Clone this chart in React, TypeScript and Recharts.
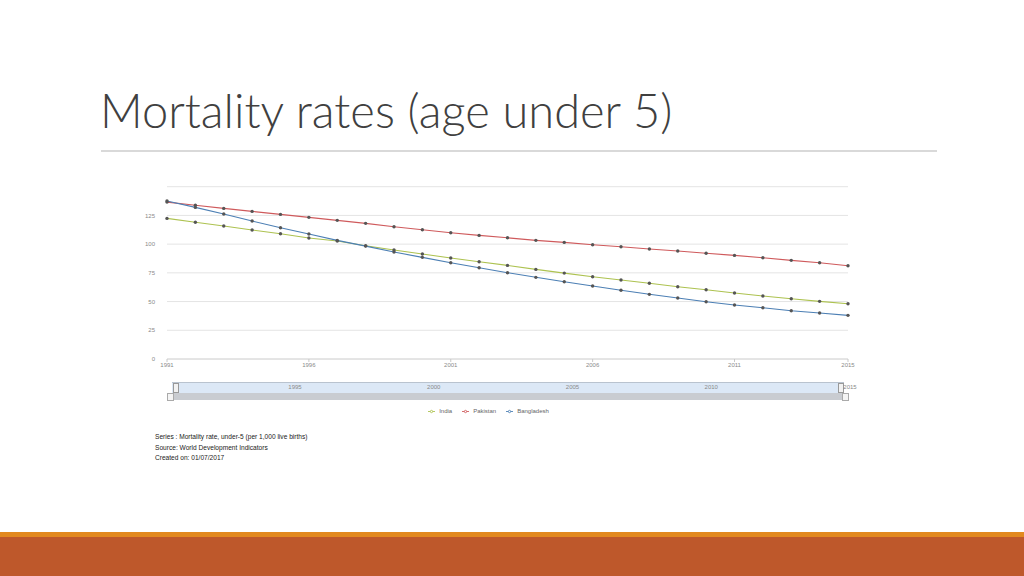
import {
  CartesianGrid,
  Legend,
  Line,
  LineChart,
  XAxis,
  YAxis,
} from "recharts";

const YEARS = [
  1991, 1992, 1993, 1994, 1995, 1996, 1997, 1998, 1999, 2000, 2001, 2002, 2003,
  2004, 2005, 2006, 2007, 2008, 2009, 2010, 2011, 2012, 2013, 2014, 2015,
];

const INDIA = [
  122.4, 119, 115.8, 112.3, 109, 105.3, 102.7, 98.6, 94.9, 91.4, 87.9, 84.7,
  81.5, 78, 74.8, 71.6, 68.8, 65.9, 62.9, 60.3, 57.4, 54.8, 52.5, 50.2, 48.1,
];

const PAKISTAN = [
  136.6, 133.8, 131.1, 128.5, 125.9, 123.3, 120.7, 118.1, 115.1, 112.5, 109.9,
  107.6, 105.5, 103.3, 101.5, 99.5, 97.7, 95.7, 94, 92, 90.2, 88.2, 85.9, 83.8,
  81.2,
];

const BANGLADESH = [
  137.5, 132, 126.2, 120.1, 114.3, 108.8, 103.3, 98.3, 93.1, 88.5, 83.8, 79.5,
  75.1, 71.1, 67.3, 63.5, 59.8, 56.3, 53.1, 49.9, 47, 44.6, 42, 40, 38,
];

const X_TICKS = [1991, 1996, 2001, 2006, 2011, 2015];
const Y_TICKS = [0, 25, 50, 75, 100, 125, 150];
const NAV_TICKS = [1995, 2000, 2005, 2010, 2015];

const NOTES = [
  "Series : Mortality rate, under-5 (per 1,000 live births)",
  "Source: World Development Indicators",
  "Created on: 01/07/2017",
];

const data = YEARS.map((year, i) => ({
  year,
  India: INDIA[i],
  Pakistan: PAKISTAN[i],
  Bangladesh: BANGLADESH[i],
}));

const SERIES = [
  { key: "India", color: "#adc250" },
  { key: "Pakistan", color: "#cf5a5c" },
  { key: "Bangladesh", color: "#4c7fb4" },
];

const chartFont = "Arial, 'Liberation Sans', sans-serif";

export default function App() {
  return (
    <div
      style={{
        position: "absolute",
        left: 0,
        top: 0,
        width: 1024,
        height: 576,
        background: "#fff",
        overflow: "hidden",
      }}
    >
      {/* slide title */}
      <div
        style={{
          position: "absolute",
          left: 100,
          top: 78,
          fontFamily: "Lato, 'Open Sans', sans-serif",
          fontWeight: 300,
          fontSize: 47,
          color: "#404040",
          whiteSpace: "nowrap",
          lineHeight: "64px",
        }}
      >
        Mortality rates (age under 5)
      </div>
      <div
        style={{
          position: "absolute",
          left: 101,
          top: 150,
          width: 836,
          height: 2,
          background: "#d9d9d9",
        }}
      />

      {/* main chart */}
      <div style={{ position: "absolute", left: 127, top: 176 }}>
        <LineChart
          width={733}
          height={245}
          data={data}
          margin={{ top: 10.7, right: 12, left: 0, bottom: 42 }}
          style={{ fontFamily: chartFont }}
        >
          <CartesianGrid vertical={false} stroke="#e4e4e4" />
          <XAxis
            dataKey="year"
            type="number"
            domain={[1991, 2015]}
            ticks={X_TICKS}
            tickSize={3}
            tickMargin={1}
            height={20}
            axisLine={{ stroke: "#d8d8d8" }}
            tickLine={{ stroke: "#c8c8c8" }}
            tick={{ fontSize: 6, fill: "#8a8a8a" }}
          />
          <YAxis
            domain={[0, 150]}
            ticks={Y_TICKS}
            width={40}
            axisLine={false}
            tickLine={false}
            tickMargin={6}
            tickFormatter={(v: number) => (v === 150 ? "" : String(v))}
            tick={{ fontSize: 6, fill: "#8a8a8a" }}
          />
          <Legend
            verticalAlign="middle"
            align="center"
            iconType="line"
            iconSize={7}
            itemSorter={(item: { value?: string }) =>
              SERIES.findIndex((s) => s.key === item.value)
            }
            wrapperStyle={{
              top: 231,
              left: 0,
              width: 733,
              fontSize: 6,
              lineHeight: "8px",
            }}
            formatter={(value: string) => (
              <span style={{ color: "#666" }}>{value}</span>
            )}
          />
          {SERIES.map((s) => (
            <Line
              key={s.key}
              type="linear"
              dataKey={s.key}
              stroke={s.color}
              strokeWidth={1.1}
              dot={{ r: 1.7, fill: "#555", stroke: "none" }}
              activeDot={false}
              isAnimationActive={false}
            />
          ))}
        </LineChart>
      </div>

      {/* navigator band */}
      <div
        style={{
          position: "absolute",
          left: 172,
          top: 382,
          width: 672,
          height: 10,
          background: "#dce8f6",
          borderTop: "1px solid #b9c3cf",
        }}
      />
      <div
        style={{
          position: "absolute",
          left: 167,
          top: 393,
          width: 681,
          height: 7,
          background: "#c9ccd1",
        }}
      />
      {[173, 838].map((x) => (
        <div
          key={x}
          style={{
            position: "absolute",
            left: x,
            top: 383,
            width: 4,
            height: 8,
            background: "#f2f2f2",
            border: "1px solid #999",
          }}
        />
      ))}
      {[167, 842].map((x) => (
        <div
          key={x}
          style={{
            position: "absolute",
            left: x,
            top: 393,
            width: 5,
            height: 6,
            background: "#f4f4f4",
            border: "1px solid #aaa",
          }}
        />
      ))}
      <div style={{ position: "absolute", left: 184, top: 381 }}>
        <LineChart
          width={700}
          height={14}
          data={data}
          margin={{ top: 0, right: 34, left: 0, bottom: 0 }}
          style={{ fontFamily: chartFont }}
        >
          <XAxis
            dataKey="year"
            type="number"
            domain={[1991, 2015]}
            ticks={NAV_TICKS}
            height={12}
            axisLine={false}
            tickLine={false}
            tickSize={0}
            tickMargin={2}
            tick={{ fontSize: 6, fill: "#8a8a8a" }}
          />
        </LineChart>
      </div>

      {/* notes */}
      {NOTES.map((t, i) => (
        <div
          key={t}
          style={{
            position: "absolute",
            left: 155,
            top: 433 + i * 10.5,
            fontFamily: chartFont,
            fontSize: 6.6,
            lineHeight: "8px",
            color: "#222",
            whiteSpace: "nowrap",
          }}
        >
          {t}
        </div>
      ))}

      {/* bottom bands */}
      <div
        style={{
          position: "absolute",
          left: 0,
          top: 532,
          width: 1024,
          height: 5,
          background: "#e2891f",
        }}
      />
      <div
        style={{
          position: "absolute",
          left: 0,
          top: 537,
          width: 1024,
          height: 39,
          background: "#be582b",
        }}
      />
    </div>
  );
}
